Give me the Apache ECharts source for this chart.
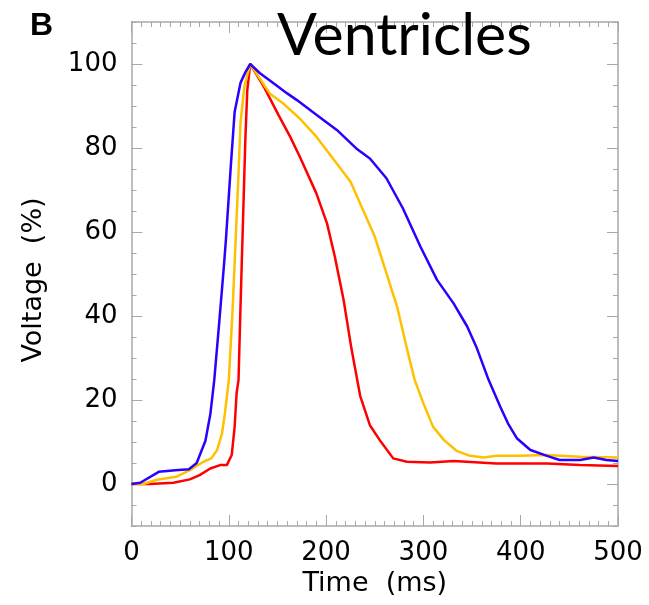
<!DOCTYPE html>
<html>
<head>
<meta charset="utf-8">
<script src="https://cdn.jsdelivr.net/npm/echarts@6/dist/echarts.min.js"></script>
<style>html,body{margin:0;padding:0;background:#fff}#c{width:649px;height:605px}</style>
</head>
<body>
<div id="c"></div>
<script>
// ---- data ----
var blueT = [0,9,28,45,59,67,76,81,85,90,95,97,102,106,112,117,122,132,146,160,170,190,211,231,245,262,279,297,314,331,345,355,367,379,387,396,410,427,440,461,475,488,500];
var blueV = [0,0.3,2.9,3.3,3.5,5,10.3,16.6,24.6,38,52,58,75.5,88.6,95.5,98,100,97.8,95.4,93,91.4,87.9,84.3,79.9,77.5,72.8,65.6,56.5,48.6,43,37.5,32.3,24.8,18.4,14.4,10.9,8.1,6.7,5.7,5.7,6.3,5.7,5.5];

var yellowT = [0,12,26,46,60,74,82,88,93,96,100,104,107,110,112,116,122,142,156,173,190,207,225,235,250,262,273,283,291,300,310,321,334,348,362,375,399,427,461,500];
var yellowV = [0,0,1,1.7,3.3,5.3,6.1,8.1,12,16.8,24.8,42,58,74,85.9,94.6,100,93,90.6,87,82.7,77.5,72,66.8,58.9,50.2,42.2,32.3,24.8,19.2,13.6,10.5,7.9,6.7,6.3,6.7,6.7,6.9,6.5,6.3];

var redT = [0,19,43,60,70,81,91,98,103,106,108,110,112,114,117,119,122,136,151,163,173,190,201,209,218,226,235,245,255,269,283,307,331,375,427,461,500];
var redV = [0,0,0.3,1.1,2.1,3.7,4.5,4.5,6.9,13.6,21.6,24.8,42,58,82,93.8,100,94.6,87.9,82.7,77.9,69.2,62,54.1,43.8,32.3,21,14,10.5,6.1,5.3,5.1,5.5,4.9,4.9,4.5,4.3];

var yMajorTicks = [0,20,40,60,80,100];
var xTickLabels = [0,100,200,300,400,500];
var titleText = 'Ventricles';
var panelLetter = 'B';
var xName = 'Time  (ms)';
var yName = 'Voltage  (%)';

function pairs(t, v){ return t.map(function(x,i){ return [x, v[i]]; }); }

var axisGray = '#a8a8a8';
var labelFont = 'DejaVu Sans';

var chart = echarts.init(document.getElementById('c'));
var yBase = {
  type:'value', min:-10, max:110, interval:5, splitLine:{show:false}
};
chart.setOption({
  animation:false,
  backgroundColor:'#fff',
  grid:{left:131.5, right:31, top:22, bottom:79, containLabel:false},
  xAxis:[
    {type:'value', position:'bottom', min:0, max:500, interval:100,
     axisLine:{show:true, onZero:false, lineStyle:{color:axisGray, width:1.5}},
     axisTick:{show:true, inside:true, length:11, lineStyle:{color:axisGray, width:1}},
     minorTick:{show:true, splitNumber:10, length:5, lineStyle:{color:axisGray, width:1}},
     axisLabel:{show:true, margin:14, color:'#000', fontSize:26, fontFamily:labelFont,
       formatter:function(v){ return xTickLabels.indexOf(v)>=0 ? String(v) : ''; }},
     splitLine:{show:false},
     name:xName, nameLocation:'middle', nameGap:40,
     nameTextStyle:{color:'#000', fontSize:27, fontFamily:labelFont}},
    {type:'value', position:'top', min:0, max:500, interval:100,
     axisLine:{show:true, onZero:false, lineStyle:{color:axisGray, width:1.5}},
     axisTick:{show:true, inside:true, length:11, lineStyle:{color:axisGray, width:1}},
     minorTick:{show:true, splitNumber:10, length:5, lineStyle:{color:axisGray, width:1}},
     axisLabel:{show:false}, splitLine:{show:false}}
  ],
  yAxis:[
    Object.assign({}, yBase, {position:'left',
     axisLine:{show:true, onZero:false, lineStyle:{color:axisGray, width:1.5}},
     axisTick:{show:true, inside:true, length:5, lineStyle:{color:axisGray, width:1}},
     axisLabel:{show:true, margin:14, color:'#000', fontSize:26, fontFamily:labelFont,
       formatter:function(v){ return yMajorTicks.indexOf(v)>=0 ? String(v) : ''; }}}),
    Object.assign({}, yBase, {position:'left',
     axisLine:{show:false, onZero:false},
     axisTick:{show:true, inside:true, length:11, customValues:yMajorTicks, lineStyle:{color:axisGray, width:1}},
     axisLabel:{show:false}}),
    Object.assign({}, yBase, {position:'right',
     axisLine:{show:true, onZero:false, lineStyle:{color:axisGray, width:1.5}},
     axisTick:{show:true, inside:true, length:5, lineStyle:{color:axisGray, width:1}},
     axisLabel:{show:false}}),
    Object.assign({}, yBase, {position:'right',
     axisLine:{show:false, onZero:false},
     axisTick:{show:true, inside:true, length:11, customValues:yMajorTicks, lineStyle:{color:axisGray, width:1}},
     axisLabel:{show:false}})
  ],
  series:[
    {type:'line', name:'red', data:pairs(redT, redV), showSymbol:false, symbol:'none',
     lineStyle:{color:'#ff0000', width:2.5}, itemStyle:{color:'#ff0000'}},
    {type:'line', name:'yellow', data:pairs(yellowT, yellowV), showSymbol:false, symbol:'none',
     lineStyle:{color:'#ffc000', width:2.5}, itemStyle:{color:'#ffc000'}},
    {type:'line', name:'blue', data:pairs(blueT, blueV), showSymbol:false, symbol:'none',
     lineStyle:{color:'#2a00ff', width:2.5}, itemStyle:{color:'#2a00ff'}}
  ],
  graphic:[
    {type:'text', left:277, top:6, z:100,
     style:{text:titleText, fill:'#000', font:'59px Lato'}},
    {type:'text', left:30, top:10, z:100,
     style:{text:panelLetter, fill:'#000', font:'bold 32px "Liberation Sans"'}},
    {type:'text', x:34, y:280, rotation:Math.PI/2, z:100,
     style:{text:yName, fill:'#000', font:'27px "DejaVu Sans"', align:'center', verticalAlign:'middle'}}
  ]
});
</script>
</body>
</html>
